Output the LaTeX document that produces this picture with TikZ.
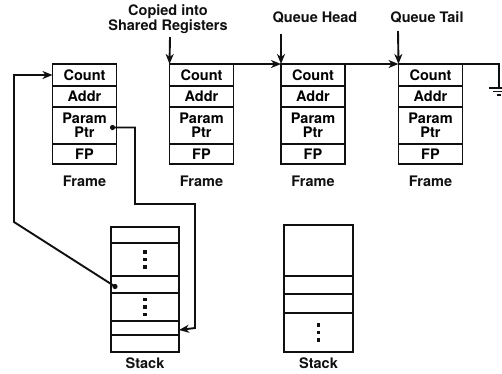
\documentclass[tikz,border=0pt]{standalone}
\usepackage{fontspec}
\setmainfont{TeX Gyre Heros}
\usetikzlibrary{arrows.meta,positioning,calc}
\definecolor{fgInk}{HTML}{101010}
\tikzset{
  cell/.style   ={draw=fgInk,line width=1.9pt,minimum width=64pt,inner sep=0pt,outer sep=0pt,
                  font=\fontsize{14.5}{14}\selectfont\bfseries,align=center,anchor=north},
  scell/.style  ={cell,minimum width=68pt},
  lbl/.style    ={font=\fontsize{14.5}{15}\selectfont\bfseries,text=fgInk,inner sep=0pt,align=center},
  link/.style   ={fgInk,line width=1.9pt},
  flow/.style   ={-{Stealth[length=10pt,width=8pt,inset=3pt]},fgInk,line width=1.9pt},
  pdot/.style   ={fill=fgInk},
}
\begin{document}
\begin{tikzpicture}[x=1pt,y=-1pt]
\useasboundingbox (0,0) rectangle (502,373);

% frames
\foreach \i/\x in {1/84.5,2/201.5,3/313,4/430.5}
  { \node[cell,minimum height=22pt] (c\i) at (\x,64) {Count};
    \node[cell,minimum height=21pt,below=0pt of c\i] (a\i) {Addr};
    \node[cell,minimum height=37pt,below=0pt of a\i] (p\i) {Param\\Ptr};
    \node[cell,minimum height=20pt,below=0pt of p\i] (fp\i) {FP};
    \node[lbl,below=12pt of fp\i] (fl\i) {Frame}; }

% stacks
\node[scell,minimum height=16pt] (s1a) at (145,227) {};
\node[scell,minimum height=33pt,below=0pt of s1a] (s1b) {};
\node[scell,minimum height=17pt,below=0pt of s1b] (s1c) {};
\node[scell,minimum height=28pt,below=0pt of s1c] (s1d) {};
\node[scell,minimum height=14pt,below=0pt of s1d] (s1e) {};
\node[scell,minimum height=17pt,below=0pt of s1e] (s1f) {};
\node[lbl,below=6pt of s1f] (sl1) {Stack};

\node[scell,minimum width=69pt,minimum height=51pt] (s2a) at (318.5,225) {};
\node[scell,minimum width=69pt,minimum height=18pt,below=0pt of s2a] (s2b) {};
\node[scell,minimum width=69pt,minimum height=19pt,below=0pt of s2b] (s2c) {};
\node[scell,minimum width=69pt,minimum height=39pt,below=0pt of s2c] (s2d) {};
\node[lbl,below=6pt of s2d] (sl2) {Stack};

\foreach \s in {s1b,s1d,s2d}
  \foreach \d in {-7.5,0,7.5}
    \fill[pdot] ([xshift=-1.7pt,yshift=\d pt-1.7pt]\s.center) rectangle +(3.4,-3.4);

% pointers from above
\node[lbl] (lcopy) at (168,19) {Copied into\\Shared Registers};
\node[lbl] (lhead) at (315,17) {Queue Head};
\node[lbl] (ltail) at (427,17) {Queue Tail};
\coordinate (cpin) at (170,37);
\coordinate (hdin) at (281,34);
\coordinate (tlin) at (398,31);
\draw[flow] (cpin) -- (c2.north west);
\draw[flow] (hdin) -- (c3.north west);
\draw[flow] (tlin) -- (c4.north west);

% queue links
\draw[flow] (c2.north east) -- (c3.north west);
\draw[flow] (c3.north east) -- (c4.north west);
\coordinate (gnd) at (499,88);
\draw[link] (c4.north east) -- (gnd |- c4.north east) -- (gnd);
\draw[link] (489,88) -- (509,88) (493,91.5) -- (505,91.5) (497,95) -- (501,95);

% stack pointer and param pointer
\coordinate (spdot) at ([xshift=4pt,yshift=-2pt]s1c.west);
\coordinate (lbend) at (14,222);
\fill[pdot] (spdot) circle (2.6);
\draw[flow] (spdot) -- (lbend) -- (lbend |- c1.west) -- (c1.west);
\coordinate (ppdot) at ([xshift=-4pt,yshift=-2pt]p1.east);
\coordinate (jog) at (135,204);
\coordinate (rbend) at (195,0);
\fill[pdot] (ppdot) circle (2.6);
\draw[flow] (ppdot) -- (jog |- ppdot) -- (jog) -- (rbend |- jog)
  -- (rbend |- s1e.east) -- ([yshift=-2pt]s1e.east);
\end{tikzpicture}
\end{document}
